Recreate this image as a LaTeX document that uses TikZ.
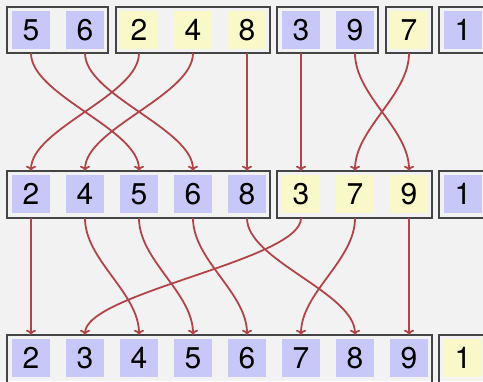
\documentclass[tikz,border=0pt]{standalone}
\usepackage{fontspec}
\setmainfont{TeX Gyre Heros}
\usetikzlibrary{arrows.meta}
\begin{document}
\begin{tikzpicture}[x=1bp,y=-1bp,
  cellb/.style={fill=cblue,minimum width=38bp,minimum height=38bp,inner sep=0pt,font=\fontsize{30bp}{30bp}\selectfont},
  celly/.style={cellb,fill=cyel},
  grp/.style={draw=gborder,line width=1.2bp},
  conn/.style={draw=cred,line width=1.8bp,-{To[length=5bp,width=10bp]}}]
\definecolor{cblue}{HTML}{C8C8F8}
\definecolor{cyel}{HTML}{F8F8C8}
\definecolor{gborder}{HTML}{444444}
\definecolor{cred}{HTML}{B04448}
\definecolor{bg}{HTML}{F2F2F2}
\fill[bg] (0,0) rectangle (483,381);
\useasboundingbox (0,0) rectangle (483,381);
% row 1
\node[cellb] (a5) at (31,30) {5};
\node[cellb] (a6) at (85,30) {6};
\node[celly] (a2) at (139,30) {2};
\node[celly] (a4) at (193,30) {4};
\node[celly] (a8) at (247,30) {8};
\node[cellb] (a3) at (301,30) {3};
\node[cellb] (a9) at (355,30) {9};
\node[celly] (a7) at (409,30) {7};
\node[cellb] (a1) at (463,30) {1};
\draw[grp] (7,7) rectangle (108,53);
\draw[grp] (116,7) rectangle (270,53);
\draw[grp] (277,7) rectangle (378,53);
\draw[grp] (386,7) rectangle (432,53);
\draw[grp] (490,7) -- (439,7) -- (439,53) -- (490,53);
% row 2
\node[cellb] (b2) at (31,194) {2};
\node[cellb] (b4) at (85,194) {4};
\node[cellb] (b5) at (139,194) {5};
\node[cellb] (b6) at (193,194) {6};
\node[cellb] (b8) at (247,194) {8};
\node[celly] (b3) at (301,194) {3};
\node[celly] (b7) at (355,194) {7};
\node[celly] (b9) at (409,194) {9};
\node[cellb] (b1) at (463,194) {1};
\draw[grp] (7,171) rectangle (270,218);
\draw[grp] (277,171) rectangle (432,218);
\draw[grp] (490,171) -- (439,171) -- (439,218) -- (490,218);
% row 3
\node[cellb] (c2) at (31,358) {2};
\node[cellb] (c3) at (85,358) {3};
\node[cellb] (c4) at (139,358) {4};
\node[cellb] (c5) at (193,358) {5};
\node[cellb] (c6) at (247,358) {6};
\node[cellb] (c7) at (301,358) {7};
\node[cellb] (c8) at (355,358) {8};
\node[cellb] (c9) at (409,358) {9};
\node[celly] (c1) at (463,358) {1};
\draw[grp] (7,390) -- (7,335) -- (432,335) -- (432,390);
\draw[grp] (490,335) -- (439,335) -- (439,390);
% connectors row1 -> row2
\foreach \s/\t in {a5/b5,a6/b6,a2/b2,a4/b4,a8/b8,a3/b3,a9/b9,a7/b7}{
  \path (\s.south) ++(0,4) coordinate (s);
  \path (\t.north) ++(0,-4) coordinate (t);
  \draw[conn] (s) .. controls ([yshift=-42bp]s) and ([yshift=42bp]t) .. (t);
}
\foreach \s/\t in {b2/c2,b4/c4,b5/c5,b6/c6,b8/c8,b3/c3,b7/c7,b9/c9}{
  \path (\s.south) ++(0,5) coordinate (s);
  \path (\t.north) ++(0,-4) coordinate (t);
  \draw[conn] (s) .. controls ([yshift=-42bp]s) and ([yshift=42bp]t) .. (t);
}
\end{tikzpicture}
\end{document}
